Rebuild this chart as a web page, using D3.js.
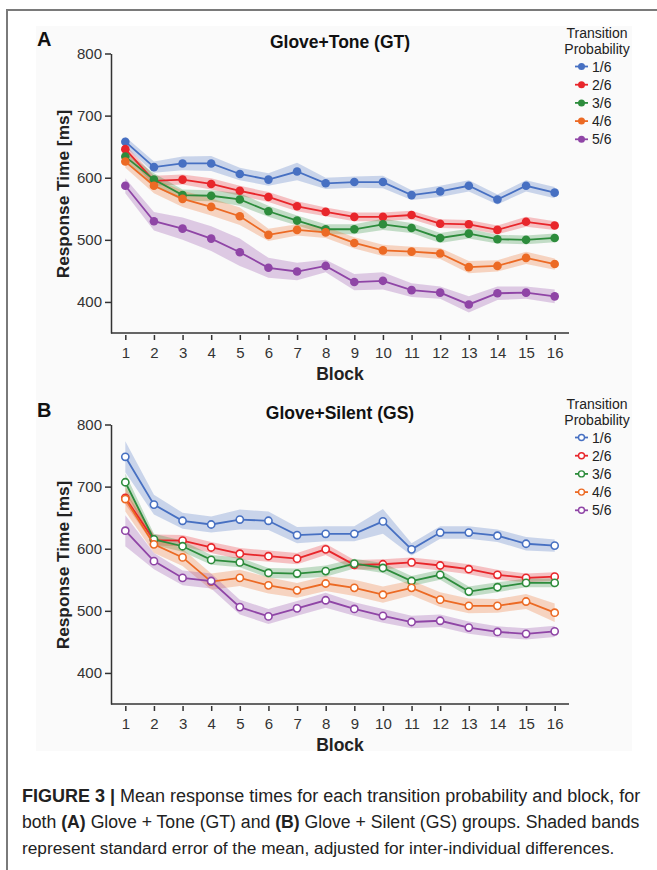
<!DOCTYPE html>
<html>
<head>
<meta charset="utf-8">
<script src="https://cdn.jsdelivr.net/npm/d3@7"></script>
<style>
  body { margin: 0; background: #fff; }
  svg { display: block; font-family: 'Liberation Sans', Arial, sans-serif; }
  .axis text { font-size: 15px; fill: #333; }
  .axis path, .axis line { stroke: #333; stroke-width: 1.5; }
</style>
</head>
<body>
<div id="chart"></div>
<script>
// blocks and tick labels
const blocks = [1, 2, 3, 4, 5, 6, 7, 8, 9, 10, 11, 12, 13, 14, 15, 16];
const yTicks = [400, 500, 600, 700, 800];
const probs = ['1/6', '2/6', '3/6', '4/6', '5/6'];
const colors = ['#4770c2', '#e8262b', '#2d8c3c', '#ec6a24', '#8f45a6'];

// Glove+Tone (GT) means, ms
const gt1 = [658, 617, 623, 623, 606, 597, 610, 591, 593, 593, 572, 578, 587, 565, 587, 576];
const gt2 = [646, 595, 597, 590, 579, 569, 554, 545, 537, 537, 540, 526, 525, 516, 529, 523];
const gt3 = [634, 597, 572, 571, 565, 546, 531, 517, 517, 525, 519, 503, 510, 501, 500, 503];
const gt4 = [626, 587, 566, 553, 538, 508, 516, 512, 495, 483, 481, 478, 456, 458, 471, 461];
const gt5 = [587, 530, 518, 502, 480, 455, 449, 458, 432, 434, 419, 415, 396, 414, 415, 409];
// GT standard errors
const gtSe1 = [8, 9, 11, 12, 10, 10, 14, 9, 9, 10, 8, 9, 9, 8, 9, 9];
const gtSe2 = [7, 8, 8, 9, 8, 8, 8, 7, 7, 7, 7, 7, 7, 7, 8, 7];
const gtSe3 = [8, 10, 9, 9, 10, 9, 8, 8, 8, 9, 8, 8, 8, 7, 7, 7];
const gtSe4 = [10, 12, 13, 14, 14, 10, 9, 9, 9, 9, 8, 9, 10, 9, 10, 9];
const gtSe5 = [12, 15, 18, 20, 22, 16, 14, 10, 13, 14, 11, 10, 13, 11, 10, 11];

// Glove+Silent (GS) means, ms
const gs1 = [748, 671, 645, 639, 647, 645, 622, 624, 624, 644, 599, 626, 626, 621, 608, 605];
const gs2 = [682, 614, 613, 602, 592, 588, 584, 599, 574, 575, 578, 573, 567, 558, 553, 555];
const gs3 = [707, 615, 604, 582, 578, 561, 560, 564, 576, 569, 548, 558, 531, 538, 545, 545];
const gs4 = [680, 607, 586, 547, 553, 541, 533, 544, 537, 526, 537, 518, 508, 508, 515, 497];
const gs5 = [629, 580, 553, 548, 506, 491, 504, 517, 503, 492, 482, 484, 473, 466, 463, 467];
// GS standard errors
const gsSe1 = [25, 16, 13, 13, 16, 15, 13, 12, 12, 20, 10, 10, 10, 10, 11, 10];
const gsSe2 = [10, 9, 9, 9, 9, 9, 9, 9, 8, 8, 8, 8, 8, 8, 7, 7];
const gsSe3 = [14, 9, 9, 8, 8, 8, 8, 9, 8, 8, 8, 8, 8, 8, 7, 7];
const gsSe4 = [20, 14, 14, 13, 13, 13, 12, 12, 13, 13, 12, 12, 12, 11, 12, 15];
const gsSe5 = [25, 13, 12, 12, 12, 12, 12, 12, 11, 11, 10, 10, 10, 9, 9, 9];

const panels = [
  { letter: 'A', title: 'Glove+Tone (GT)', top: 0, filled: true,
    means: [gt1, gt2, gt3, gt4, gt5], ses: [gtSe1, gtSe2, gtSe3, gtSe4, gtSe5] },
  { letter: 'B', title: 'Glove+Silent (GS)', top: 371, filled: false,
    means: [gs1, gs2, gs3, gs4, gs5], ses: [gsSe1, gsSe2, gsSe3, gsSe4, gsSe5] }
];

const W = 657, H = 870;
const svg = d3.select('#chart').append('svg')
  .attr('width', W)
  .attr('height', H);

// figure frame + faint plot background
svg.append('rect')
  .attr('x', 36).attr('y', 26).attr('width', 596).attr('height', 725)
  .attr('fill', '#fafafa');
svg.append('path')
  .attr('d', `M7,${H} V10 H${W}`)
  .attr('fill', 'none')
  .attr('stroke', '#7a7a7a')
  .attr('stroke-width', 2);

const x = d3.scaleLinear().domain([0.5, 16.5]).range([111, 569]);

panels.forEach(p => {
  const g = svg.append('g').attr('transform', `translate(0, ${p.top})`);
  const y = d3.scaleLinear().domain([350, 800]).range([333, 53.5]);

  // bands
  p.means.forEach((m, i) => {
    const rows = blocks.map((b, j) => ({ b, m: m[j], se: p.ses[i][j] }));
    g.append('path')
      .datum(rows)
      .attr('fill', colors[i])
      .attr('fill-opacity', 0.27)
      .attr('d', d3.area().x(d => x(d.b)).y0(d => y(d.m - d.se)).y1(d => y(d.m + d.se)));
  });

  // lines + markers
  p.means.forEach((m, i) => {
    const rows = blocks.map((b, j) => ({ b, m: m[j] }));
    g.append('path')
      .datum(rows)
      .attr('fill', 'none')
      .attr('stroke', colors[i])
      .attr('stroke-width', 1.8)
      .attr('d', d3.line().x(d => x(d.b)).y(d => y(d.m)));
    g.selectAll(null)
      .data(rows)
      .enter().append('circle')
      .attr('cx', d => x(d.b))
      .attr('cy', d => y(d.m))
      .attr('r', p.filled ? 4.3 : 3.6)
      .attr('fill', p.filled ? colors[i] : '#fff')
      .attr('stroke', colors[i])
      .attr('stroke-width', p.filled ? 0 : 1.6);
  });

  // y axis
  g.append('g')
    .attr('class', 'axis')
    .attr('transform', 'translate(111, 0)')
    .call(d3.axisLeft(y).tickValues(yTicks).tickSize(6).tickSizeOuter(0).tickPadding(3));

  // x axis: spine plus detached ticks
  g.append('line')
    .attr('x1', 111).attr('x2', 569).attr('y1', 333).attr('y2', 333)
    .attr('stroke', '#333').attr('stroke-width', 1.5);
  const xa = g.append('g')
    .attr('class', 'axis')
    .attr('transform', 'translate(0, 335)')
    .call(d3.axisBottom(x).tickValues(blocks).tickSize(5).tickPadding(7).tickFormat(d3.format('d')));
  xa.select('.domain').remove();

  // labels
  g.append('text')
    .attr('x', 340).attr('y', 380)
    .attr('text-anchor', 'middle')
    .attr('font-size', 17.5).attr('font-weight', 'bold').attr('fill', '#222')
    .text('Block');
  g.append('text')
    .attr('transform', 'translate(69, 194) rotate(-90)')
    .attr('text-anchor', 'middle')
    .attr('font-size', 17.3).attr('font-weight', 'bold').attr('fill', '#222')
    .text('Response Time [ms]');
  g.append('text')
    .attr('x', 340).attr('y', 48)
    .attr('text-anchor', 'middle')
    .attr('font-size', 17.5).attr('font-weight', 'bold').attr('fill', '#111')
    .text(p.title);
  g.append('text')
    .attr('x', 37).attr('y', 46)
    .attr('font-size', 20).attr('font-weight', 'bold').attr('fill', '#111')
    .text(p.letter);

  // legend
  const lg = g.append('g');
  lg.append('text').attr('x', 597).attr('y', 38).attr('text-anchor', 'middle')
    .attr('font-size', 14).attr('fill', '#222').text('Transition');
  lg.append('text').attr('x', 597).attr('y', 54).attr('text-anchor', 'middle')
    .attr('font-size', 14).attr('fill', '#222').text('Probability');
  probs.forEach((lab, i) => {
    const cy = 66.5 + i * 18.2;
    lg.append('line').attr('x1', 575).attr('x2', 588).attr('y1', cy).attr('y2', cy)
      .attr('stroke', colors[i]).attr('stroke-width', 1.8);
    lg.append('circle').attr('cx', 581.5).attr('cy', cy)
      .attr('r', p.filled ? 3.5 : 3)
      .attr('fill', p.filled ? colors[i] : '#fff')
      .attr('stroke', colors[i]).attr('stroke-width', p.filled ? 0 : 1.4);
    lg.append('text').attr('x', 592).attr('y', cy + 5)
      .attr('font-size', 14).attr('fill', '#222').text(lab);
  });
});

// caption
const cap = svg.append('g').attr('fill', '#222');
const capLines = [
  [['FIGURE 3 | ', true], ['Mean response times for each transition probability and block, for', false]],
  [['both ', false], ['(A)', true], [' Glove + Tone (GT) and ', false], ['(B)', true], [' Glove + Silent (GS) groups. Shaded bands', false]],
  [['represent standard error of the mean, adjusted for inter-individual differences.', false]]
];
const capSizes = [18, 17.65, 17.3];
capLines.forEach((parts, i) => {
  const t = cap.append('text').attr('x', 22).attr('y', 802 + i * 26)
    .attr('font-size', capSizes[i]);
  parts.forEach(([s, bold]) => {
    t.append('tspan').attr('font-weight', bold ? 'bold' : 'normal').text(s);
  });
});
</script>
</body>
</html>
